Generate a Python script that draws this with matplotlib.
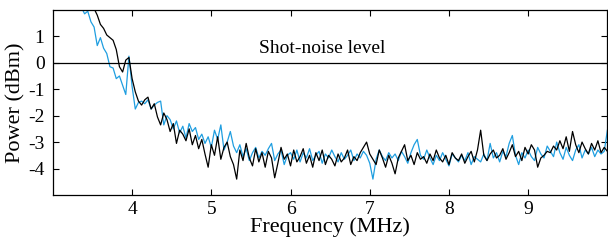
import numpy as np
from matplotlib import pyplot as plt

# frequency bins of the analyser sweep (MHz)
freq = np.linspace(3.36, 10.0, 167)

# black trace (dBm)
power_black = [
	3.2, 3.0, 2.7, 2.45, 2.05, 1.8, 1.45, 1.3, 1.05, 0.95,
	0.85, 0.5, -0.15, -0.35, 0.1, 0.2, -0.6, -1.1, -1.45, -1.6,
	-1.4, -1.3, -1.75, -1.55, -2.05, -2.35, -1.9, -2.15, -2.6, -2.3,
	-3.05, -2.55, -2.7, -2.95, -2.5, -3.1, -2.75, -3.25, -2.9, -3.45,
	-3.95, -3.1, -3.5, -2.8, -3.65, -3.2, -3.0, -3.55, -3.85, -4.4,
	-3.3, -3.7, -3.05, -3.6, -3.9, -3.25, -3.75, -3.4, -3.95, -3.35,
	-3.6, -4.35, -3.8, -3.2, -3.65, -3.45, -3.9, -3.3, -3.75, -3.55,
	-3.25, -3.8, -3.5, -3.95, -3.4, -3.7, -3.3, -3.85, -3.5, -3.65,
	-3.9, -3.45, -3.75, -3.6, -3.3, -3.85, -3.55, -3.7, -3.4, -3.2,
	-3.0, -3.45, -3.65, -3.85, -3.3, -3.6, -3.95, -3.5, -3.8, -4.2,
	-3.6, -3.35, -3.1, -3.7, -3.5, -3.85, -3.4, -3.65, -3.55, -3.8,
	-3.45, -3.7, -3.3, -3.6, -3.75, -3.5, -3.85, -3.4, -3.6, -3.7,
	-3.45, -3.8, -3.55, -3.35, -3.75, -3.3, -2.55, -3.5, -3.7, -3.45,
	-3.3, -3.6, -3.5, -3.25, -3.65, -3.4, -3.1, -3.55, -3.35, -3.7,
	-3.2, -3.45, -3.1, -3.3, -3.95, -3.6, -3.5, -3.35, -3.4, -3.15,
	-3.3, -2.95, -3.25, -2.8, -3.35, -2.6, -3.1, -3.4, -3.0, -3.25,
	-3.45, -3.05, -3.3, -2.95, -3.4, -3.2, -3.35,
]

# blue trace (dBm)
power_blue = [
	2.1, 1.85, 1.95, 1.55, 1.35, 0.65, 0.95, 0.55, 0.35, -0.15,
	-0.2, -0.6, -0.5, -0.85, -1.2, 0.25, -0.9, -1.75, -1.5, -1.45,
	-1.55, -1.4, -1.75, -1.6, -1.5, -1.45, -2.35, -2.0, -2.15, -2.5,
	-2.2, -2.65, -2.4, -2.85, -2.3, -2.6, -2.45, -2.9, -2.7, -3.05,
	-2.8, -3.2, -2.55, -2.9, -2.35, -3.3, -3.0, -2.6, -3.15, -3.4,
	-3.1, -3.55, -3.25, -3.7, -3.4, -3.2, -3.6, -3.35, -3.5, -3.25,
	-3.05, -3.7, -3.45, -3.3, -3.85, -3.5, -3.4, -3.65, -3.3, -3.75,
	-3.4, -3.6, -3.25, -3.7, -3.5, -3.35, -3.8, -3.45, -3.6, -3.3,
	-3.55, -3.75, -3.4, -3.65, -3.5, -3.3, -3.7, -3.45, -3.6, -3.35,
	-3.5, -3.8, -4.4, -3.65, -3.3, -3.55, -3.7, -3.4, -3.6, -3.45,
	-3.7, -3.35, -3.55, -3.8, -3.4, -3.1, -2.9, -3.5, -3.65, -3.3,
	-3.6, -3.85, -3.5, -3.7, -3.4, -3.65, -3.9, -3.45, -3.6, -3.75,
	-3.5, -3.7, -3.4, -3.85, -3.55, -3.65, -3.75, -3.45, -3.7, -3.05,
	-3.6, -3.4, -3.75, -3.35, -3.55, -3.05, -2.75, -3.5, -3.85, -3.4,
	-3.6, -3.3, -3.55, -3.7, -3.2, -3.45, -3.6, -3.15, -3.35, -3.55,
	-3.0, -3.4, -3.65, -3.2, -3.5, -3.7, -3.3, -3.1, -3.6, -3.3,
	-3.45, -3.2, -3.55, -3.3, -3.45, -3.35, -2.55,
]

shot_noise = 0.0
xticks = [4, 5, 6, 7, 8, 9]
yticks = [-4, -3, -2, -1, 0, 1]

plt.rcParams['font.family'] = ['Liberation Serif', 'DejaVu Serif']
plt.rcParams['axes.unicode_minus'] = False

fig = plt.figure(figsize=(6.08, 2.41), dpi=100)
ax = fig.add_axes([0.087, 0.191, 0.912, 0.768])

ax.plot(freq, power_blue, color='#1f9ee0', lw=0.9)
ax.plot(freq, power_black, color='black', lw=0.9)
ax.axhline(shot_noise, color='black', lw=0.9)
ax.text(6.4, 0.22, 'Shot-noise level', ha='center', va='bottom', fontsize=14)

ax.set_xlim(3, 10)
ax.set_ylim(-5, 2)
ax.set_xticks(xticks)
ax.set_yticks(yticks)
ax.tick_params(direction='in', top=True, right=True, length=4, labelsize=14)
ax.tick_params(axis='x', pad=4)
ax.tick_params(axis='y', pad=6)
for s in ax.spines.values():
	s.set_linewidth(0.9)
ax.set_xlabel('Frequency (MHz)', fontsize=16, labelpad=0)
ax.set_ylabel('Power (dBm)', fontsize=16, labelpad=2)

fig.savefig('out.png', dpi=100)
